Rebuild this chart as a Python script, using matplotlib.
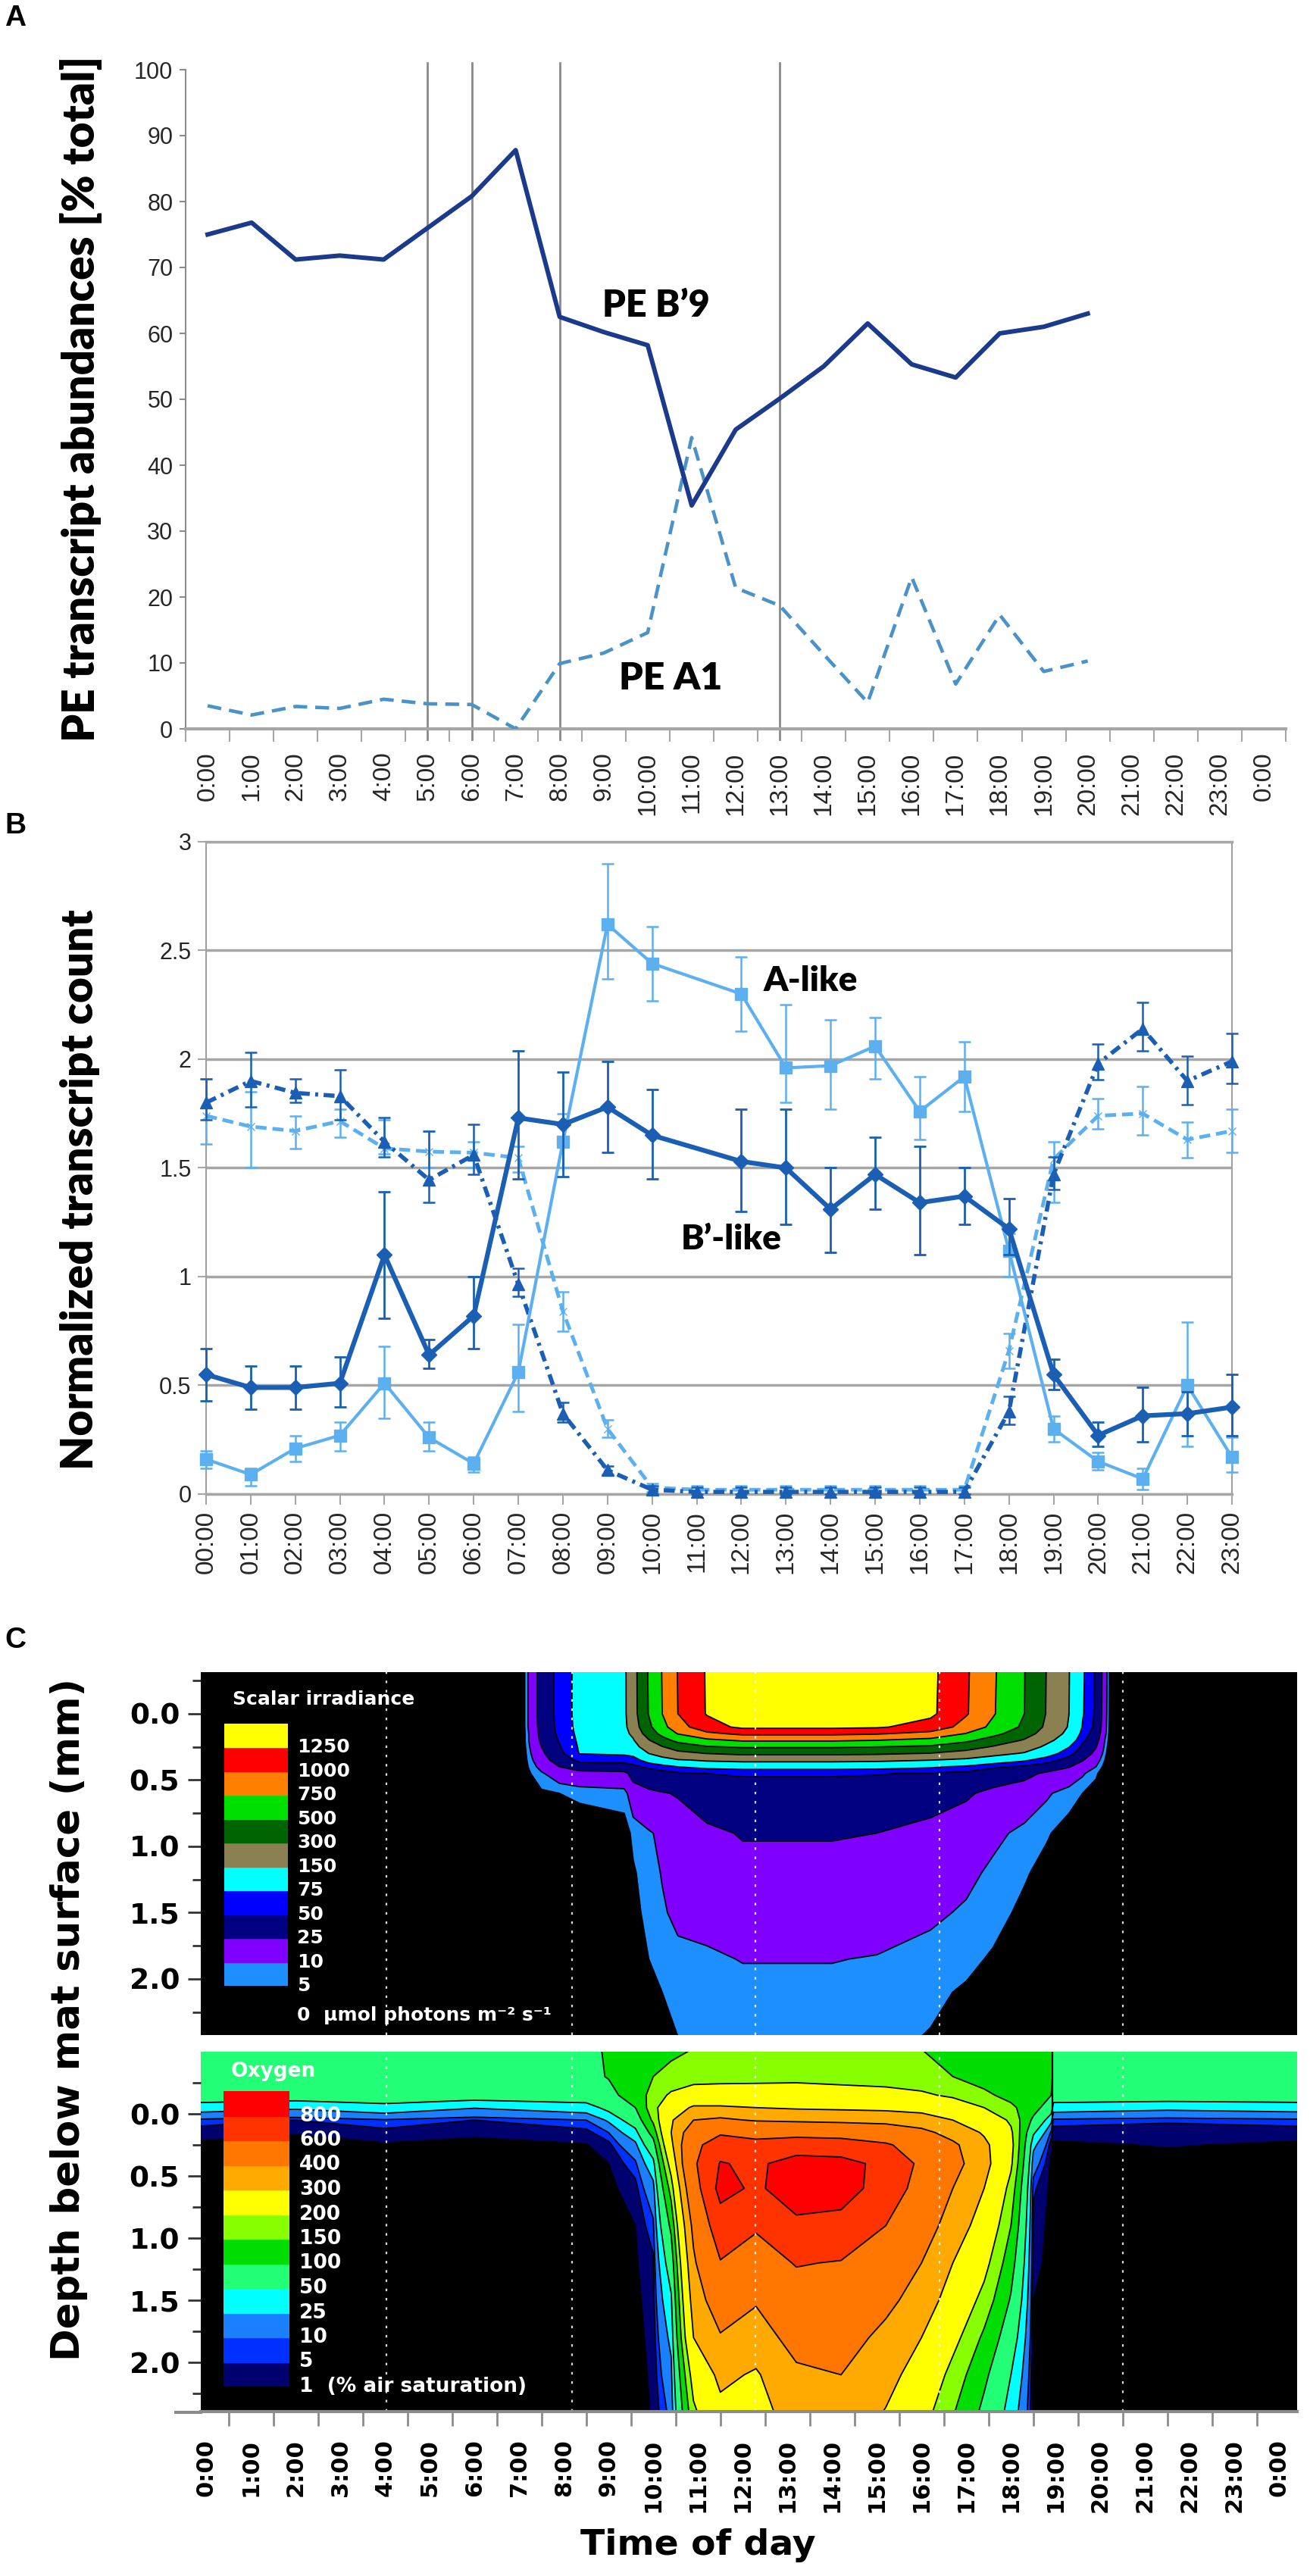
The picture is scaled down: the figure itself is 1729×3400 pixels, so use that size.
import numpy as np
import matplotlib
matplotlib.use("Agg")
import matplotlib.pyplot as plt
from matplotlib.lines import Line2D

W, H = 1729, 3400

# ---------------- panel A : PE transcript abundances ----------------
hours_a = list(range(21))
pe_b9 = [75, 76.8, 71.2, 71.8, 71.2, 76, 80.8, 87.8, 62.5, 60.2, 58.2, 33.9, 45.4,
         50.1, 55, 61.5, 55.3, 53.3, 60, 61, 63]
pe_a1 = [3.5, 2.1, 3.4, 3.1, 4.5, 3.8, 3.7, 0, 9.9, 11.5, 14.6, 44.2, 21.4,
         18.7, 11.3, 4, 23, 6.8, 17.3, 8.7, 10.3]
sample_hours = [5, 6, 8, 13]
labels_a = ["%d:00" % (h % 24) for h in range(25)]

# ---------------- panel B : normalized transcript counts ----------------
day_hours = [0, 1, 2, 3, 4, 5, 6, 7, 8, 9, 10, 12, 13, 14, 15, 16, 17, 18, 19, 20, 21, 22, 23]
bl_val = [0.55, 0.49, 0.49, 0.51, 1.10, 0.64, 0.82, 1.73, 1.70, 1.78, 1.65, 1.53, 1.50,
          1.31, 1.47, 1.34, 1.37, 1.22, 0.55, 0.27, 0.36, 0.37, 0.40]
bl_hi = [0.67, 0.59, 0.59, 0.63, 1.39, 0.71, 1.00, 2.04, 1.94, 1.99, 1.86, 1.77, 1.77,
         1.50, 1.64, 1.60, 1.50, 1.36, 0.62, 0.33, 0.49, 0.47, 0.55]
bl_lo = [0.43, 0.39, 0.39, 0.40, 0.81, 0.58, 0.67, 1.45, 1.46, 1.57, 1.45, 1.30, 1.24,
         1.11, 1.31, 1.10, 1.24, 1.10, 0.48, 0.22, 0.24, 0.27, 0.27]
al_val = [0.16, 0.09, 0.21, 0.27, 0.51, 0.26, 0.14, 0.56, 1.62, 2.62, 2.44, 2.30, 1.96,
          1.97, 2.06, 1.76, 1.92, 1.12, 0.30, 0.15, 0.07, 0.50, 0.17]
al_hi = [0.20, 0.12, 0.27, 0.33, 0.68, 0.33, 0.17, 0.78, 1.75, 2.90, 2.61, 2.47, 2.25,
         2.18, 2.19, 1.92, 2.08, 1.20, 0.36, 0.19, 0.12, 0.79, 0.26]
al_lo = [0.12, 0.04, 0.15, 0.20, 0.35, 0.20, 0.10, 0.38, 1.50, 2.37, 2.27, 2.13, 1.80,
         1.77, 1.91, 1.63, 1.76, 1.00, 0.24, 0.11, 0.02, 0.22, 0.10]

all_hours = list(range(24))
bn_val = [1.80, 1.90, 1.845, 1.83, 1.62, 1.445, 1.56, 0.965, 0.37, 0.11, 0.02, 0.01, 0.01,
          0.01, 0.01, 0.01, 0.01, 0.01, 0.38, 1.47, 1.98, 2.14, 1.90, 1.99]
bn_hi = [1.91, 2.03, 1.91, 1.95, 1.73, 1.67, 1.70, 1.04, 0.42, 0.13, 0.04, 0.03, 0.03,
         0.03, 0.03, 0.03, 0.03, 0.03, 0.45, 1.55, 2.07, 2.26, 2.015, 2.12]
bn_lo = [1.72, 1.78, 1.80, 1.72, 1.55, 1.34, 1.47, 0.91, 0.33, 0.09, 0.0, 0.0, 0.0,
         0.0, 0.0, 0.0, 0.0, 0.0, 0.32, 1.40, 1.905, 2.04, 1.79, 1.89]
an_val = [1.74, 1.69, 1.67, 1.715, 1.59, 1.575, 1.57, 1.546, 0.84, 0.30, 0.03, 0.02, 0.02,
          0.02, 0.02, 0.02, 0.02, 0.02, 0.66, 1.54, 1.74, 1.75, 1.63, 1.67]
an_hi = [1.91, 1.85, 1.74, 1.77, 1.72, 1.67, 1.62, 1.60, 0.93, 0.34, 0.05, 0.04, 0.04,
         0.04, 0.04, 0.04, 0.04, 0.04, 0.74, 1.62, 1.82, 1.875, 1.71, 1.77]
an_lo = [1.61, 1.50, 1.59, 1.64, 1.565, 1.50, 1.50, 1.48, 0.75, 0.26, 0.01, 0.0, 0.0,
         0.0, 0.0, 0.0, 0.0, 0.0, 0.58, 1.34, 1.68, 1.65, 1.546, 1.57]
labels_b = ["%02d:00" % h for h in range(24)]

# ---------------- panel C : scalar irradiance (umol photons m-2 s-1) ----------------
irr_depths = [-0.35, 0.0, 0.1, 0.15, 0.2, 0.25, 0.3, 0.35, 0.4, 0.45, 0.6, 0.9, 1.2, 1.5, 1.85, 2.1, 2.5]
irr_times = [-0.2, 7.05, 7.2, 7.5, 7.9, 8.35, 9.35, 9.55, 9.9, 10.2, 10.55, 11.2, 12.0, 14.0,
             15.0, 16.2, 17.0, 17.6, 18.3, 18.8, 19.3, 19.6, 19.9, 20.1, 20.25, 24.5]
irr_columns = [
    [0] * 17,
    [0] * 17,
    [10, 10, 10, 9, 9, 8, 7, 6, 5, 4, 2, 0, 0, 0, 0, 0, 0],
    [32, 32, 31, 30, 28, 25, 21, 17, 13, 9, 4, 1, 0, 0, 0, 0, 0],
    [58, 58, 57, 55, 52, 48, 42, 34, 25, 15, 5, 1, 0, 0, 0, 0, 0],
    [85, 85, 84, 82, 80, 78, 76, 56, 36, 18, 6, 2, 0, 0, 0, 0, 0],
    [130, 130, 126, 118, 106, 94, 80, 58, 38, 20, 7, 3, 0, 0, 0, 0, 0],
    [230, 225, 205, 175, 140, 110, 85, 62, 44, 32, 16, 6, 4.5, 4, 3.5, 3, 2.5],
    [520, 510, 450, 380, 290, 210, 150, 90, 55, 36, 22, 9, 7, 6, 5, 4, 3],
    [760, 750, 670, 560, 420, 290, 195, 110, 62, 40, 24, 12, 10.5, 9, 6.5, 5, 4],
    [1010, 1000, 900, 760, 560, 380, 250, 140, 75, 46, 26, 18, 16, 12, 8, 6, 4.8],
    [1270, 1265, 1150, 950, 700, 480, 300, 160, 85, 50, 34, 22, 19, 13, 8.8, 7, 5.5],
    [1500, 1450, 1300, 1050, 780, 520, 330, 170, 90, 52, 40, 26, 21, 16, 10.3, 8, 6.3],
    [1500, 1450, 1300, 1050, 780, 520, 330, 170, 90, 52, 40, 26, 21, 16, 10.3, 8, 6.3],
    [1450, 1420, 1280, 1020, 750, 500, 320, 165, 88, 51, 39, 25, 20, 15, 9.5, 7.6, 5.8],
    [1310, 1300, 1150, 930, 680, 460, 290, 150, 80, 48, 33, 20, 16, 11.5, 7.5, 5.8, 4.6],
    [1030, 1020, 910, 740, 545, 370, 235, 125, 68, 43, 27, 17, 12, 9, 6, 4.5, 3.3],
    [780, 770, 690, 560, 410, 285, 180, 98, 54, 35, 21, 12, 8.5, 6.5, 4.5, 3, 2],
    [505, 500, 455, 375, 285, 205, 140, 80, 45, 30, 16, 8, 5.5, 4, 1.5, 0.5, 0],
    [295, 290, 265, 225, 175, 130, 92, 60, 36, 22, 11, 5.5, 3.5, 2, 0.5, 0, 0],
    [152, 150, 140, 120, 98, 76, 58, 40, 26, 16, 7, 3, 1, 0, 0, 0, 0],
    [80, 78, 73, 64, 55, 45, 36, 26, 17, 11, 5, 1.5, 0, 0, 0, 0, 0],
    [46, 45, 42, 37, 32, 26, 20, 14, 10, 6, 2.5, 0, 0, 0, 0, 0, 0],
    [15, 14, 13, 12, 10, 8, 6.5, 5, 3, 1.5, 0, 0, 0, 0, 0, 0, 0],
    [0] * 17,
    [0] * 17,
]
irr_levels = [0, 5, 10, 25, 50, 75, 150, 300, 500, 750, 1000, 1250, 5000]
irr_colors = ["#000000", "#1e8fff", "#7f00ff", "#000080", "#0000ff", "#00ffff",
              "#8b8052", "#006400", "#00e000", "#ff8000", "#ff0000", "#ffff00"]
irr_labels = ["5", "10", "25", "50", "75", "150", "300", "500", "750", "1000", "1250"]

# ---------------- panel C : oxygen (% air saturation) ----------------
o2_depths = [-0.55, -0.3, -0.15, -0.05, 0.05, 0.15, 0.25, 0.4, 0.6, 0.9, 1.2, 1.5, 1.8, 2.1, 2.45]
o2_times = [-0.2, 2.0, 4.0, 6.0, 8.5, 9.0, 9.6, 10.0, 10.4, 10.9, 11.5, 12.3, 13.2, 14.2,
            15.2, 16.0, 16.7, 17.4, 18.0, 18.5, 18.9, 18.95, 21.5, 24.5]
o2_columns = [
    [90, 90, 72, 35, 8, 2, 0.5, 0, 0, 0, 0, 0, 0, 0, 0],
    [90, 90, 68, 28, 5, 1.2, 0, 0, 0, 0, 0, 0, 0, 0, 0],
    [90, 90, 75, 38, 9, 3, 0.6, 0, 0, 0, 0, 0, 0, 0, 0],
    [90, 90, 66, 26, 5, 1.5, 0.3, 0, 0, 0, 0, 0, 0, 0, 0],
    [90, 90, 72, 36, 10, 3, 0.8, 0, 0, 0, 0, 0, 0, 0, 0],
    [105, 102, 88, 60, 28, 10, 3, 1, 0, 0, 0, 0, 0, 0, 0],
    [120, 125, 120, 100, 70, 40, 20, 8, 3, 1, 0.5, 0, 0, 0, 0],
    [130, 150, 170, 180, 160, 120, 80, 40, 18, 8, 4, 3, 2, 1.5, 1.2],
    [140, 160, 210, 260, 290, 300, 280, 230, 170, 110, 70, 45, 30, 20, 12],
    [148, 170, 240, 310, 400, 480, 540, 570, 510, 430, 380, 340, 300, 230, 180],
    [160, 175, 240, 310, 420, 570, 720, 810, 860, 710, 590, 470, 390, 320, 270],
    [165, 180, 235, 300, 390, 530, 660, 770, 770, 620, 520, 410, 350, 290, 260],
    [170, 185, 230, 290, 380, 530, 710, 870, 900, 760, 610, 520, 440, 380, 340],
    [165, 180, 225, 285, 370, 520, 690, 860, 880, 740, 590, 510, 450, 400, 350],
    [160, 175, 220, 280, 360, 490, 620, 750, 720, 600, 500, 430, 370, 330, 290],
    [148, 165, 210, 270, 340, 430, 520, 560, 520, 460, 400, 350, 300, 260, 220],
    [140, 150, 190, 240, 300, 360, 420, 440, 400, 350, 300, 260, 220, 180, 150],
    [125, 130, 160, 200, 250, 290, 320, 330, 300, 260, 220, 180, 140, 110, 85],
    [110, 115, 135, 160, 190, 210, 220, 210, 180, 150, 120, 95, 70, 50, 35],
    [105, 110, 120, 120, 90, 55, 30, 15, 6, 3, 2, 1, 0.5, 0, 0],
    [110, 112, 100, 70, 30, 8, 2, 0, 0, 0, 0, 0, 0, 0, 0],
    [90, 90, 72, 35, 8, 2, 0.5, 0, 0, 0, 0, 0, 0, 0, 0],
    [90, 90, 70, 30, 6, 2, 1.2, 0, 0, 0, 0, 0, 0, 0, 0],
    [90, 90, 72, 34, 8, 2, 0.5, 0, 0, 0, 0, 0, 0, 0, 0],
]
o2_levels = [0, 1, 5, 10, 25, 50, 100, 150, 200, 300, 400, 600, 800, 5000]
o2_colors = ["#000000", "#00006e", "#0030ff", "#1a80ff", "#00ffff", "#22ff77", "#00dd00",
             "#88ff00", "#ffff00", "#ffaa00", "#ff7700", "#ff3300", "#ff0000"]
o2_labels = ["1", "5", "10", "25", "50", "100", "150", "200", "300", "400", "600", "800"]
guide_hours = [4.03, 8.19, 12.28, 16.40, 20.51]

SANS = ["Liberation Sans", "DejaVu Sans"]
CAL = ["Lato", "DejaVu Sans"]
BOLD_C = ["DejaVu Sans"]

fig = plt.figure(figsize=(W / 100, H / 100), dpi=100)


def px_axes(x0, y0, x1, y1):
    return fig.add_axes([x0 / W, 1 - y1 / H, (x1 - x0) / W, (y1 - y0) / H])


def ftext(x, y, s, **kw):
    return fig.text(x / W, 1 - y / H, s, **kw)


# ======== A ========
axA = px_axes(245, 92, 1697, 962)
for h in sample_hours:
    axA.plot([h, h], [-1.6, 101], color="#8a8a8a", lw=2.0, clip_on=False, zorder=1)
axA.plot(hours_a, pe_a1, color="#4a92c8", lw=3.3, dashes=(4, 2.3), zorder=3)
axA.plot(hours_a, pe_b9, color="#1b3a8c", lw=4.3, zorder=4)
axA.set_xlim(-0.5, 24.5)
axA.set_ylim(0, 100)
for s in ["top", "right"]:
    axA.spines[s].set_visible(False)
axA.spines["left"].set_color("#8c8c8c")
axA.spines["left"].set_linewidth(1.5)
axA.spines["bottom"].set_color("#a6a6a6")
axA.spines["bottom"].set_linewidth(3)
axA.set_yticks(range(0, 101, 10))
axA.tick_params(axis="y", length=6, width=1.5, color="#8c8c8c", labelsize=22,
                labelcolor="#262626", pad=6)
axA.set_xticks(range(25))
axA.set_xticklabels(labels_a, rotation=90)
axA.set_xticks(np.arange(-0.5, 25, 1), minor=True)
axA.tick_params(axis="x", which="major", length=0, pad=22, labelsize=24, labelcolor="#262626")
axA.tick_params(axis="x", which="minor", length=12, width=1.5, color="#a6a6a6")
for lab in axA.get_xticklabels() + axA.get_yticklabels():
    lab.set_family(SANS)
axA.text(8.97, 64.2, "PE B\u20199", fontsize=35, fontweight="heavy", family=CAL,
         va="center", ha="left")
axA.text(9.35, 7.6, "PE A1", fontsize=36, fontweight="heavy", family=CAL,
         va="center", ha="left")
ftext(107, 526, "PE transcript abundances [% total]", rotation=90, fontsize=42,
      fontweight="heavy", family=CAL, va="center", ha="center")

# ======== B ========
DARK = "#1a5fb4"
LIGHT = "#5cb0f0"
axB = px_axes(272, 1111, 1626, 1972)
axB.set_xlim(0, 23)
axB.set_ylim(0, 3)
axB.yaxis.grid(True, color="#a6a6a6", lw=2.5)
axB.set_axisbelow(True)
for s in ["left", "right"]:
    axB.spines[s].set_color("#a0a0a0")
    axB.spines[s].set_linewidth(1.5)
for s in ["top", "bottom"]:
    axB.spines[s].set_color("#a6a6a6")
    axB.spines[s].set_linewidth(2.5)


def series(x, y, lo, hi, color, lw, marker, ms, elw, z, dashes=None):
    y = np.array(y)
    yerr = [y - np.array(lo), np.array(hi) - y]
    axB.errorbar(x, y, yerr=yerr, fmt="none", ecolor=color, elinewidth=elw,
                 capsize=6, capthick=elw, clip_on=False, zorder=z)
    kw = dict(color=color, lw=lw, marker=marker, ms=ms, clip_on=False, zorder=z + 0.5)
    if dashes is not None:
        kw["dashes"] = dashes
    axB.plot(x, y, **kw)


series(all_hours, an_val, an_lo, an_hi, LIGHT, 3.5, "x", 7, 1.8, 3, dashes=(3, 1.6))
series(all_hours, bn_val, bn_lo, bn_hi, DARK, 4.0, "^", 12, 1.8, 4, dashes=(2.6, 1.3, 0.7, 1.3))
series(day_hours, al_val, al_lo, al_hi, LIGHT, 3.0, "s", 11, 1.8, 5)
series(day_hours, bl_val, bl_lo, bl_hi, DARK, 4.5, "D", 10, 2.0, 6)

axB.set_xticks(range(24))
axB.set_xticklabels(labels_b, rotation=90)
axB.set_yticks([0, 0.5, 1, 1.5, 2, 2.5, 3])
axB.set_yticklabels(["0", "0.5", "1", "1.5", "2", "2.5", "3"])
axB.tick_params(axis="x", length=10, width=1.5, color="#a6a6a6", labelsize=24,
                labelcolor="#262626", pad=6)
axB.tick_params(axis="y", length=8, width=1.5, color="#a6a6a6", labelsize=22,
                labelcolor="#262626", pad=6)
for lab in axB.get_xticklabels() + axB.get_yticklabels():
    lab.set_family(SANS)
axB.text(12.5, 2.36, "A-like", fontsize=33, fontweight="heavy", family=CAL,
         va="center", ha="left", zorder=10)
axB.text(10.65, 1.174, "B\u2019-like", fontsize=33, fontweight="heavy", family=CAL,
         va="center", ha="left", zorder=10)
ftext(106, 1570, "Normalized transcript count", rotation=90, fontsize=42,
      fontweight="heavy", family=CAL, va="center", ha="center")

# ======== C ========
axU = px_axes(265, 2207, 1712, 2686)
axL = px_axes(265, 2708, 1712, 3183)

Zi = np.array(irr_columns, dtype=float).T
axU.contourf(irr_times, irr_depths, Zi, levels=irr_levels, colors=irr_colors)
axU.contour(irr_times, irr_depths, Zi, levels=irr_levels[1:-1], colors="black", linewidths=1.3)
axU.set_ylim(2.423, -0.314)

Zo = np.array(o2_columns, dtype=float).T
axL.contourf(o2_times, o2_depths, Zo, levels=o2_levels, colors=o2_colors)
axL.contour(o2_times, o2_depths, Zo, levels=o2_levels[1:-1], colors="black", linewidths=1.3)
axL.plot([18.93, 18.93], [-0.5, 2.4], color="black", lw=1.6)
axL.set_ylim(2.396, -0.5)

for ax in (axU, axL):
    ax.set_facecolor("black")
    ax.set_xlim(-0.12, 24.4)
    for h in guide_hours:
        ax.axvline(h, color="white", lw=1.6, dashes=(1.5, 4), alpha=0.85)
    for s in ["top", "right", "left", "bottom"]:
        ax.spines[s].set_visible(False)
    ax.set_yticks([0, 0.5, 1.0, 1.5, 2.0])
    ax.set_yticklabels(["0.0", "0.5", "1.0", "1.5", "2.0"])
    ax.set_yticks([-0.25, 0.25, 0.75, 1.25, 1.75, 2.25], minor=True)
    ax.tick_params(axis="y", which="major", length=12, width=2, color="#333333",
                   labelsize=27, pad=8)
    ax.tick_params(axis="y", which="minor", length=8, width=2, color="#333333")
    for lab in ax.get_yticklabels():
        lab.set_family(BOLD_C)
        lab.set_fontweight("bold")

axU.set_xticks([])
axL.spines["bottom"].set_visible(True)
axL.spines["bottom"].set_color("#8c8c8c")
axL.spines["bottom"].set_linewidth(3)
axL.set_xticks(range(25))
axL.set_xticklabels(labels_a, rotation=90)
axL.set_xticks(np.arange(0.5, 24.4, 1), minor=True)
axL.tick_params(axis="x", which="major", length=0, pad=26, labelsize=22)
axL.tick_params(axis="x", which="minor", length=14, width=2, color="#8c8c8c")
for lab in axL.get_xticklabels():
    lab.set_family(BOLD_C)
    lab.set_fontweight("bold")
fig.add_artist(Line2D([232 / W, 265 / W], [1 - 3184 / H, 1 - 3184 / H],
                      color="#8c8c8c", lw=3))

# colour keys
cbU = px_axes(296, 2275, 380, 2621)
for i, c in enumerate(irr_colors[1:]):
    cbU.axhspan(i, i + 1, color=c)
cbU.set_ylim(0, len(irr_colors) - 1)
cbU.axis("off")
step = (2621 - 2275) / (len(irr_colors) - 1)
for i, lab in enumerate(irr_labels):
    ftext(392, 2621 - i * step, lab, color="white", fontsize=18, fontweight="bold",
          family=BOLD_C, va="center", ha="left")
ftext(392, 2660, "0  \u00b5mol photons m\u207b\u00b2 s\u207b\u00b9", color="white", fontsize=18,
      fontweight="bold", family=BOLD_C, va="center", ha="left")
ftext(307, 2243, "Scalar irradiance", color="white", fontsize=18, fontweight="bold",
      family=BOLD_C, va="center", ha="left")

cbL = px_axes(295, 2760, 382, 3150)
for i, c in enumerate(o2_colors[1:]):
    cbL.axhspan(i, i + 1, color=c)
cbL.set_ylim(0, len(o2_colors) - 1)
cbL.axis("off")
step = (3150 - 2760) / (len(o2_colors) - 1)
for i, lab in enumerate(o2_labels):
    s = lab + "  (% air saturation)" if i == 0 else lab
    ftext(395, 3150 - i * step, s, color="white", fontsize=19, fontweight="bold",
          family=BOLD_C, va="center", ha="left")
ftext(305, 2734, "Oxygen", color="white", fontsize=19, fontweight="bold",
      family=BOLD_C, va="center", ha="left")

ftext(91, 2665, "Depth below mat surface (mm)", rotation=90, fontsize=37,
      fontweight="bold", family=BOLD_C, va="center", ha="center")
ftext(921, 3360, "Time of day", fontsize=34, fontweight="bold", family=BOLD_C,
      va="center", ha="center")

for letter, y in (("A", 6), ("B", 1072), ("C", 2147)):
    ftext(6, y, letter, fontsize=28, fontweight="bold", family=SANS, va="top", ha="left")

fig.savefig("out.png", dpi=100)
